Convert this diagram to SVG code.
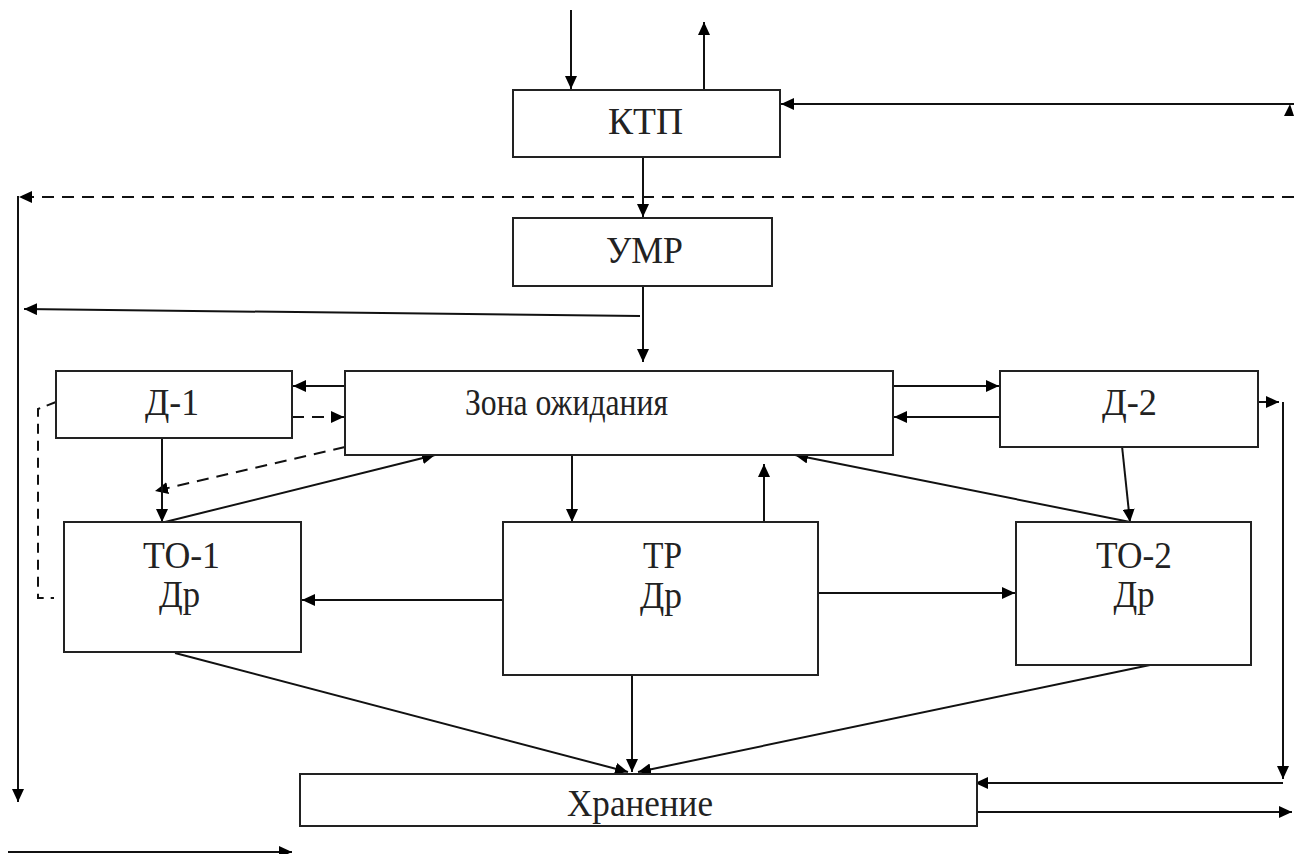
<svg xmlns="http://www.w3.org/2000/svg" width="1294" height="854" viewBox="0 0 1294 854">
<defs>
<marker id="ah" markerUnits="userSpaceOnUse" markerWidth="14" markerHeight="12" refX="13" refY="6" orient="auto">
<path d="M0,0 L13,6 L0,12 Z" fill="#000"/>
</marker>
<style>
.box{fill:#fff;stroke:#222;stroke-width:2}
.t{font-family:"Liberation Serif","Times New Roman","DejaVu Serif",serif;font-size:38px;fill:#222;text-anchor:middle}
.c{fill:none;stroke:#111;stroke-width:2}
.a{marker-end:url(#ah)}
.d{stroke-dasharray:12,8}
</style>
</defs>
<rect width="1294" height="854" fill="#fff"/>
<g id="connectors">
<line class="c a" x1="571" y1="10" x2="571" y2="89"/>
<line class="c a" x1="704" y1="90" x2="704" y2="22"/>
<line class="c a" x1="1294" y1="104" x2="781" y2="104"/>
<path d="M1284,116 L1290,104 L1294,116 Z" fill="#000"/>
<line class="c a" x1="643" y1="157" x2="643" y2="217"/>
<line class="c d a" x1="1294" y1="197" x2="19" y2="197"/>
<line class="c a" x1="18" y1="196" x2="18" y2="802"/>
<line class="c a" x1="643" y1="286" x2="643" y2="362"/>
<line class="c a" x1="640" y1="316" x2="24" y2="309"/>
<line class="c a" x1="345" y1="386" x2="293" y2="386"/>
<line class="c d a" x1="292" y1="417" x2="344" y2="417"/>
<line class="c d a" x1="345" y1="447" x2="155" y2="491"/>
<line class="c a" x1="162" y1="438" x2="162" y2="522"/>
<line class="c a" x1="165" y1="522" x2="435" y2="455"/>
<path class="c d" d="M56,402 L38,409 L38,598 L54,598" style="stroke-dasharray:10,7"/>
<line class="c a" x1="893" y1="386" x2="999" y2="386"/>
<line class="c a" x1="1000" y1="417" x2="894" y2="417"/>
<line class="c a" x1="1252" y1="402" x2="1279" y2="402"/>
<line class="c a" x1="1283" y1="402" x2="1283" y2="779"/>
<line class="c a" x1="1283" y1="783" x2="975" y2="783"/>
<line class="c a" x1="977" y1="812" x2="1292" y2="812"/>
<line class="c a" x1="8" y1="852" x2="292" y2="852"/>
<line class="c a" x1="1122" y1="446" x2="1130" y2="522"/>
<line class="c a" x1="1130" y1="522" x2="795" y2="455"/>
<line class="c a" x1="572" y1="455" x2="572" y2="522"/>
<line class="c a" x1="764" y1="522" x2="764" y2="464"/>
<line class="c a" x1="503" y1="600" x2="302" y2="600"/>
<line class="c a" x1="818" y1="593" x2="1015" y2="593"/>
<line class="c a" x1="632" y1="675" x2="632" y2="772"/>
<line class="c a" x1="175" y1="653" x2="628" y2="772"/>
<line class="c a" x1="1150" y1="665" x2="638" y2="772"/>
</g>
<g id="ktp"><rect class="box" x="513" y="90" width="267" height="67"/><text class="t" x="645.5" y="134" textLength="75" lengthAdjust="spacingAndGlyphs">КТП</text></g>
<g id="umr"><rect class="box" x="513" y="218" width="259" height="68"/><text class="t" x="644.5" y="263" textLength="77" lengthAdjust="spacingAndGlyphs">УМР</text></g>
<g id="zona"><rect class="box" x="345" y="371" width="548" height="84"/><text class="t" x="566.5" y="415" textLength="203" lengthAdjust="spacingAndGlyphs">Зона ожидания</text></g>
<g id="d1"><rect class="box" x="56" y="371" width="236" height="67"/><text class="t" x="172" y="415" textLength="54" lengthAdjust="spacingAndGlyphs">Д-1</text></g>
<g id="d2"><rect class="box" x="1000" y="371" width="258" height="76"/><text class="t" x="1129.5" y="415" textLength="55" lengthAdjust="spacingAndGlyphs">Д-2</text></g>
<g id="to1"><rect class="box" x="64" y="522" width="237" height="130"/><text class="t" x="181.5" y="568" textLength="77" lengthAdjust="spacingAndGlyphs">ТО-1</text><text class="t" x="179.5" y="607" textLength="41" lengthAdjust="spacingAndGlyphs">Др</text></g>
<g id="tr"><rect class="box" x="503" y="522" width="315" height="153"/><text class="t" x="662.5" y="568" textLength="39" lengthAdjust="spacingAndGlyphs">ТР</text><text class="t" x="661" y="608" textLength="42" lengthAdjust="spacingAndGlyphs">Др</text></g>
<g id="to2"><rect class="box" x="1016" y="522" width="235" height="143"/><text class="t" x="1134" y="568" textLength="76" lengthAdjust="spacingAndGlyphs">ТО-2</text><text class="t" x="1134" y="607" textLength="41" lengthAdjust="spacingAndGlyphs">Др</text></g>
<g id="storage"><rect class="box" x="300" y="774" width="677" height="52"/><text class="t" x="640" y="816" textLength="146" lengthAdjust="spacingAndGlyphs">Хранение</text></g>
</svg>
